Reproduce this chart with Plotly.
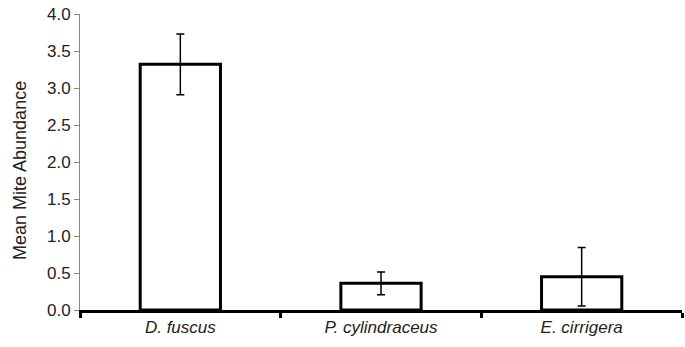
import plotly.graph_objects as go

categories = ["D. fuscus", "P. cylindraceus", "E. cirrigera"]
means = [3.32, 0.36, 0.45]
errors = [0.41, 0.155, 0.395]
y_ticks = [0.0, 0.5, 1.0, 1.5, 2.0, 2.5, 3.0, 3.5, 4.0]
y_title = "Mean Mite Abundance"

fig = go.Figure()
fig.add_trace(go.Bar(
    x=categories, y=means,
    marker=dict(color="white", line=dict(color="black", width=3)),
    width=0.4,
    error_y=dict(type="data", array=errors, color="black", thickness=1.5, width=4),
))

font = "Liberation Sans, Arial, sans-serif"
fs = 17
fig.update_layout(
    width=685, height=347,
    margin=dict(l=80, r=3, t=14, b=37),
    plot_bgcolor="white", paper_bgcolor="white",
    showlegend=False,
    font=dict(family=font, size=fs, color="#222"),
    xaxis=dict(
        type="category",
        tickvals=categories,
        ticktext=["<i>%s</i>" % c for c in categories],
        showline=True, linecolor="black", linewidth=3,
        ticks="outside", tickson="boundaries", ticklen=5, tickwidth=3, tickcolor="black",
        showgrid=False, zeroline=False,
        tickfont=dict(family=font, size=fs, color="#222"),
    ),
    yaxis=dict(
        range=[0, 4], tickvals=y_ticks, tickformat=".1f",
        showline=True, linecolor="#888", linewidth=1,
        ticks="outside", ticklen=5, tickwidth=1, tickcolor="#888",
        showgrid=False, zeroline=False,
        tickfont=dict(family=font, size=fs, color="#222"),
    ),
    annotations=[dict(
        text=y_title, textangle=-90, xref="paper", yref="paper",
        x=-0.0997, y=0.473, xanchor="center", yanchor="middle",
        showarrow=False, font=dict(family=font, size=18, color="#222"),
    )],
)

fig.write_html("out.html")
